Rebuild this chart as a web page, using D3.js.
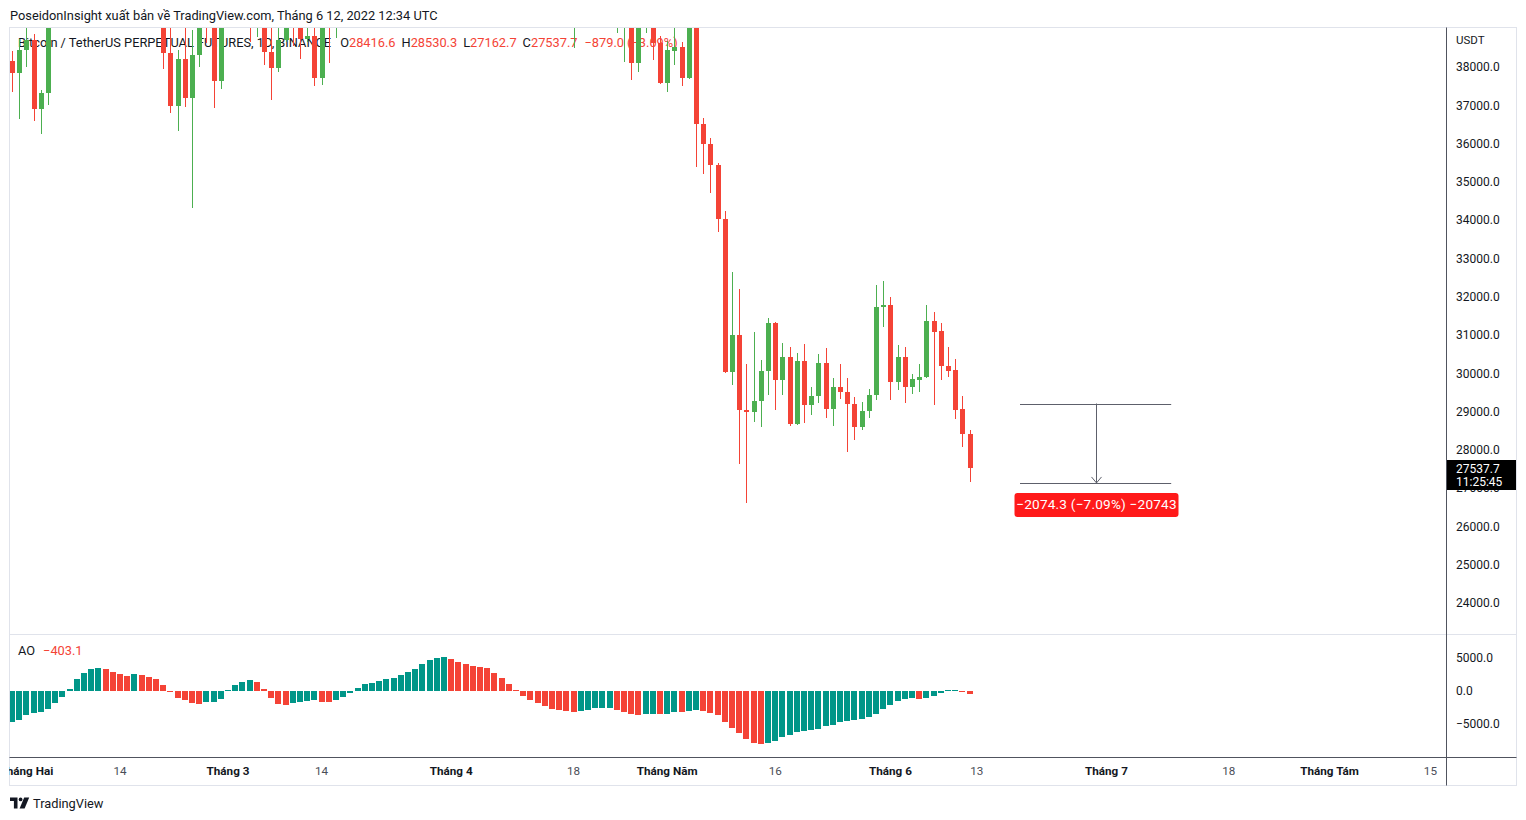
<!DOCTYPE html>
<html><head><meta charset="utf-8">
<script src="https://cdn.jsdelivr.net/npm/d3@7"></script>
<style>
body{margin:0;background:#fff;}
text{font-family:Roboto,"Noto Sans",sans-serif;}
</style>
</head><body>
<svg id="c" width="1526" height="820"></svg>
<script>
// ---------- DATA ----------
const firstDay = "2022-01-30";
const opens = [38157,37852,38444,38694,36896,37311,41574,41382,42380,43840,44118,44339,43565,42407,42244,42064,42535,44544,43874,40515,39975,40080,38360,36970,38210,37200,38310,39220,39110,37640,
43170,44420,43890,42450,39150,39400,38380,37970,38700,41940,39420,38730,38800,37720,39670,39280,41110,40920,41760,42200,41260,41000,42360,42880,43960,44330,44520,46820,47120,47440,47060,
45510,46280,45810,46400,46600,45500,43170,43440,42250,42750,42150,39520,40070,41150,39940,40550,40380,39680,40800,41500,41370,40480,39710,39450,39450,40430,38100,39240,39740,38620,
37580,38430,38520,37700,39690,36520,35980,35440,34020,30040,31000,29050,29000,29270,30060,31310,29830,30430,28680,30320,29160,29400,30270,29080,29640,29520,29190,28610,29010,29430,31720,
31790,29780,30430,29650,29830,29890,31370,31100,30190,30080,29070,28416.6];
const highs = [38418,38744,39265,38855,37387,41772,41913,42656,44500,45492,44799,45821,43920,43000,42760,42876,44751,44582,44164,40959,40444,40150,39494,38450,39270,38970,39728,40300,39850,44225,
44950,45400,44100,42500,39700,39700,39550,39360,42600,42050,40250,39360,39300,39900,39880,41700,41480,42330,42400,42300,41550,43360,43000,44200,45090,44800,46950,48190,48100,47700,47600,
46700,47200,47400,46870,47200,45500,43900,43960,42800,43400,42400,40700,41550,41500,40850,40700,40600,41100,41750,42200,42950,40800,40000,39930,40600,40800,39450,40370,39930,38800,
38680,39160,38650,40020,39850,36660,36140,35500,34240,32640,32200,30250,31090,30350,31450,31330,30790,30690,30530,30770,29640,30500,30660,29880,30240,29880,29380,29250,29590,32310,32410,
31990,30740,30690,29980,30240,31780,31600,31310,30690,30370,29410,28530.3];
const lows = [37356,36634,38000,36586,36250,37000,40843,41116,41645,42666,43117,43187,42000,41748,41870,41570,42428,43311,40073,39450,39639,37950,36790,36330,36960,34310,38010,38620,36940,37430,
42850,43330,41830,38650,38790,38050,37140,37860,38650,38540,38220,38660,37510,37530,38100,38750,40500,40130,41500,40900,40500,40900,41800,42550,43570,44070,44420,46650,46950,46550,45200,
44200,45850,45520,45110,45350,43100,42730,42100,42120,41880,39200,39250,39550,39550,39760,40020,39550,38500,40560,40850,39760,39200,39300,38900,38120,37660,37860,38880,38170,37550,
37360,38040,37510,37680,35400,35210,34720,33680,30000,29700,27630,26620,28740,28610,29440,29040,29420,28630,28660,28700,28920,29230,28840,28630,29340,27950,28270,28530,28820,29310,31220,
29310,29570,29230,29470,29520,29880,29180,29830,29910,28810,28080,27162.7];
const closes = [37852,38444,38694,36896,37311,41574,41382,42380,43840,44118,44339,43565,42407,42244,42064,42535,44544,43874,40515,39975,40080,38360,36970,38210,37200,38310,39220,39110,37640,43170,
44420,43890,42450,39150,39400,38380,37970,38700,41940,39420,38730,38800,37720,39670,39280,41110,40920,41760,42200,41260,41000,42360,42880,43960,44330,44520,46820,47120,47440,47060,45510,
46280,45810,46400,46600,45500,43170,43440,42250,42750,42150,39520,40070,41150,39940,40550,40380,39680,40800,41500,41370,40480,39710,39450,39450,40430,38100,39240,39740,38620,37580,
38450,38520,37700,39690,36520,35980,35440,34020,30040,31000,29050,29000,29270,30060,31310,29830,30430,28680,30320,29160,29410,30270,29080,29640,29520,29190,28610,29010,29430,31730,31790,
29780,30430,29650,29850,29900,31370,31090,30180,30070,29050,28416.7,27537.7];
const aoValues = [-4646,-4394,-3636,-3333,-3182,-2727,-1818,-909,303,1818,2727,3333,3485,3333,2879,2626,2273,2576,2424,2121,1818,909,-100,-1061,-1364,-1818,-1970,-1717,-1616,-1212,
100,909,1364,1667,1364,303,-1061,-1970,-2121,-1768,-1616,-1465,-1364,-1667,-1720,-1364,-859,-303,455,1061,1263,1515,1818,2020,2424,2879,3333,4141,4697,5000,
5152,4848,4394,4091,3788,3636,3485,2800,1970,1061,152,-707,-1364,-1818,-2273,-2727,-2879,-3030,-3182,-3030,-2879,-2620,-2570,-2530,-2879,-3182,-3485,-3636,-3485,-3440,
-3485,-3450,-3182,-3220,-3030,-2879,-3030,-3333,-3636,-4697,-5606,-6364,-7273,-7879,-8030,-7879,-7576,-6970,-6667,-6212,-6061,-5909,-5758,-5303,-5152,-4697,-4545,-4394,-4242,-3939,
-3485,-2727,-2121,-1515,-1212,-1061,-1212,-1061,-758,-303,152,200,60,-403.1];
const priceTicks = [24000,25000,26000,27000,28000,29000,30000,31000,32000,33000,34000,35000,36000,37000,38000];
const aoTicks = [-5000,0,5000];
const timeTickDates = ["2022-02-01","2022-02-14","2022-03-01","2022-03-14","2022-04-01","2022-04-18","2022-05-01","2022-05-16","2022-06-01","2022-06-13","2022-07-01","2022-07-18","2022-08-01","2022-08-15"];
const timeTickLabels = ["Tháng Hai","14","Tháng 3","14","Tháng 4","18","Tháng Năm","16","Tháng 6","13","Tháng 7","18","Tháng Tám","15"];
const timeTickMonth = [true,false,true,false,true,false,true,false,true,false,true,false,true,false];
const measureDates = ["2022-06-19","2022-07-10"];
const measurePrices = [29210.0, 27135.7];
const measureText = "−2074.3 (−7.09%) −20743";
const countdown = "11:25:45";
const titleText = "PoseidonInsight xuất bản về TradingView.com, Tháng 6 12, 2022 12:34 UTC";
const symbolText = "Bitcoin / TetherUS PERPETUAL FUTURES, 1D, BINANCE";

// ---------- SETUP ----------
const svg = d3.select("#c");
const UP = "#4caf50", DOWN = "#f44336", TEAL = "#009688", INK = "#131722";
const parse = d3.utcParse("%Y-%m-%d");
const day0 = parse(firstDay);
const dates = opens.map((_, i) => d3.utcDay.offset(day0, i));
const candles = dates.map((d, i) => ({d, o: opens[i], h: highs[i], l: lows[i], c: closes[i]}));

const L = 9.5, R = 1446.5, RIGHT = 1516.5, TOP = 27.5, SEP = 634.5, AXT = 757.5, BOT = 785.5;
const x = d3.scaleUtc().domain([parse("2022-03-01"), parse("2022-06-13")]).range([228, 228 + 104 * 7.2]);
const y = d3.scaleLinear().domain([24000, 38000]).range([603, 67]);
const ya = d3.scaleLinear().domain([-5000, 5000]).range([724, 658]);

const defs = svg.append("defs");
defs.append("clipPath").attr("id", "cp").append("rect").attr("x", 10).attr("y", 28).attr("width", R - 10).attr("height", SEP - 28);
defs.append("clipPath").attr("id", "ca").append("rect").attr("x", 10).attr("y", SEP + 0.5).attr("width", R - 10).attr("height", AXT - SEP - 1);
defs.append("clipPath").attr("id", "ct").append("rect").attr("x", 9).attr("y", AXT).attr("width", R - 9).attr("height", BOT - AXT);

// title
svg.append("text").attr("x", 10).attr("y", 19.5).attr("font-size", 12.8).attr("fill", INK).text(titleText);

// frame
svg.append("rect").attr("x", L).attr("y", TOP).attr("width", RIGHT - L).attr("height", BOT - TOP)
  .attr("fill", "none").attr("stroke", "#e0e3eb");
svg.append("line").attr("x1", L).attr("x2", RIGHT).attr("y1", SEP).attr("y2", SEP).attr("stroke", "#e0e3eb");

// legend header (drawn beneath candles)
const last = candles[candles.length - 1], prev = candles[candles.length - 2];
const chg = last.c - prev.c, pct = chg / prev.c * 100;
const f1 = d3.format(".1f"), f2 = d3.format(".2f");
const hdr = svg.append("text").attr("x", 18).attr("y", 46.5).attr("font-size", 12.8).attr("fill", INK);
hdr.append("tspan").text(symbolText);
[["O", last.o], ["H", last.h], ["L", last.l], ["C", last.c]].forEach(([k, v], i) => {
  hdr.append("tspan").attr("dx", i === 0 ? 9 : 6).attr("fill", INK).text(k);
  hdr.append("tspan").attr("fill", DOWN).text(f1(v));
});
hdr.append("tspan").attr("dx", 7).attr("fill", DOWN).text(`${f1(chg)} (${f2(pct)}%)`);

// candles
const gc = svg.append("g").attr("clip-path", "url(#cp)").attr("shape-rendering", "crispEdges");
const cg = gc.selectAll("g").data(candles).join("g");
cg.append("rect")
  .attr("x", d => Math.round(x(d.d)))
  .attr("y", d => y(d.h)).attr("width", 1)
  .attr("height", d => Math.max(1, y(d.l) - y(d.h)))
  .attr("fill", d => d.c >= d.o ? UP : DOWN);
cg.append("rect")
  .attr("x", d => Math.round(x(d.d)) - 2)
  .attr("y", d => y(Math.max(d.o, d.c))).attr("width", 5)
  .attr("height", d => Math.max(1, Math.abs(y(d.o) - y(d.c))))
  .attr("fill", d => d.c >= d.o ? UP : DOWN);

// AO
const aoData = aoValues.map((v, i) => ({d: dates[i], v, up: i === 0 ? true : v > aoValues[i - 1]}));
svg.append("g").attr("clip-path", "url(#ca)").attr("shape-rendering", "crispEdges")
  .selectAll("rect").data(aoData).join("rect")
  .attr("x", d => Math.round(x(d.d)) - 3)
  .attr("width", 6)
  .attr("y", d => Math.min(ya(0), ya(d.v)))
  .attr("height", d => Math.max(1, Math.abs(ya(d.v) - ya(0))))
  .attr("fill", d => d.up ? TEAL : DOWN);
const aoT = svg.append("text").attr("x", 18).attr("y", 655).attr("font-size", 12.8).attr("fill", INK);
aoT.append("tspan").text("AO");
aoT.append("tspan").attr("dx", 8).attr("fill", DOWN).text(f1(aoValues[aoValues.length - 1]));

// measurement tool
const mx0 = x(parse(measureDates[0])), mx1 = x(parse(measureDates[1]));
const my0 = y(measurePrices[0]), my1 = y(measurePrices[1]);
const mg = svg.append("g").attr("stroke", "#5d606b").attr("stroke-width", 1).attr("fill", "none");
mg.append("line").attr("x1", mx0).attr("x2", mx1).attr("y1", Math.round(my0) + 0.5).attr("y2", Math.round(my0) + 0.5);
mg.append("line").attr("x1", mx0).attr("x2", mx1).attr("y1", Math.round(my1) + 0.5).attr("y2", Math.round(my1) + 0.5);
const mxc = Math.round((mx0 + mx1) / 2) + 0.5;
mg.append("line").attr("x1", mxc).attr("x2", mxc).attr("y1", my0).attr("y2", my1);
mg.append("path").attr("d", `M${mxc - 5},${my1 - 6} L${mxc},${my1} L${mxc + 5},${my1 - 6}`);
svg.append("rect").attr("x", mxc - 82).attr("y", my1 + 10).attr("width", 164).attr("height", 24).attr("rx", 3).attr("fill", "#ff1a1a");
svg.append("text").attr("x", mxc).attr("y", my1 + 26.5).attr("text-anchor", "middle").attr("font-size", 13.6)
  .attr("letter-spacing", 0.2).attr("fill", "#fff").text(measureText);

// price axis
const pa = svg.append("g").attr("transform", `translate(${R},0)`)
  .call(d3.axisRight(y).tickValues(priceTicks).tickFormat(f1).tickSize(0).tickPadding(9.5));
pa.select(".domain").remove();
pa.selectAll("text").attr("font-size", 12).attr("fill", INK).attr("font-family", "Roboto");
svg.append("text").attr("x", 1456).attr("y", 44).attr("font-size", 11.5).attr("fill", INK).text("USDT");
const aa = svg.append("g").attr("transform", `translate(${R},0)`)
  .call(d3.axisRight(ya).tickValues(aoTicks).tickFormat(f1).tickSize(0).tickPadding(9.5));
aa.select(".domain").remove();
aa.selectAll("text").attr("font-size", 12).attr("fill", INK).attr("font-family", "Roboto");

// last price label (covers the 27000 tick as in the original)
const ly = y(last.c);
svg.append("rect").attr("x", R + 0.5).attr("y", Math.round(ly) - 8).attr("width", RIGHT - R - 1).attr("height", 30).attr("fill", "#000");
svg.append("text").attr("x", 1456).attr("y", Math.round(ly) + 4.5).attr("font-size", 12).attr("fill", "#fff").text(f1(last.c));
svg.append("text").attr("x", 1456).attr("y", Math.round(ly) + 17.5).attr("font-size", 12).attr("fill", "#fff").text(countdown);

// time axis
const tg = svg.append("g").attr("clip-path", "url(#ct)");
timeTickDates.forEach((s, i) => {
  tg.append("text").attr("x", x(parse(s))).attr("y", 775).attr("text-anchor", "middle")
    .attr("font-size", 11.7).attr("font-weight", timeTickMonth[i] ? 700 : 400)
    .attr("fill", timeTickMonth[i] ? INK : "#4a4d57").text(timeTickLabels[i]);
});

// dark scale borders
svg.append("line").attr("x1", L).attr("x2", RIGHT).attr("y1", AXT).attr("y2", AXT).attr("stroke", "#50535e");
svg.append("line").attr("x1", R).attr("x2", R).attr("y1", TOP).attr("y2", BOT).attr("stroke", "#50535e");

// TradingView logo
const lg = svg.append("g").attr("fill", INK);
lg.append("path").attr("d", "M10,797.5 h7.5 v11 h-3.6 v-7.4 h-3.9 z");
lg.append("circle").attr("cx", 20.6).attr("cy", 799.4).attr("r", 1.9);
lg.append("path").attr("d", "M24.2,797.5 h5 l-4.6,11 h-5 z");
svg.append("text").attr("x", 33).attr("y", 807.5).attr("font-size", 12.8).attr("fill", INK).text("TradingView");
</script>
</body></html>
